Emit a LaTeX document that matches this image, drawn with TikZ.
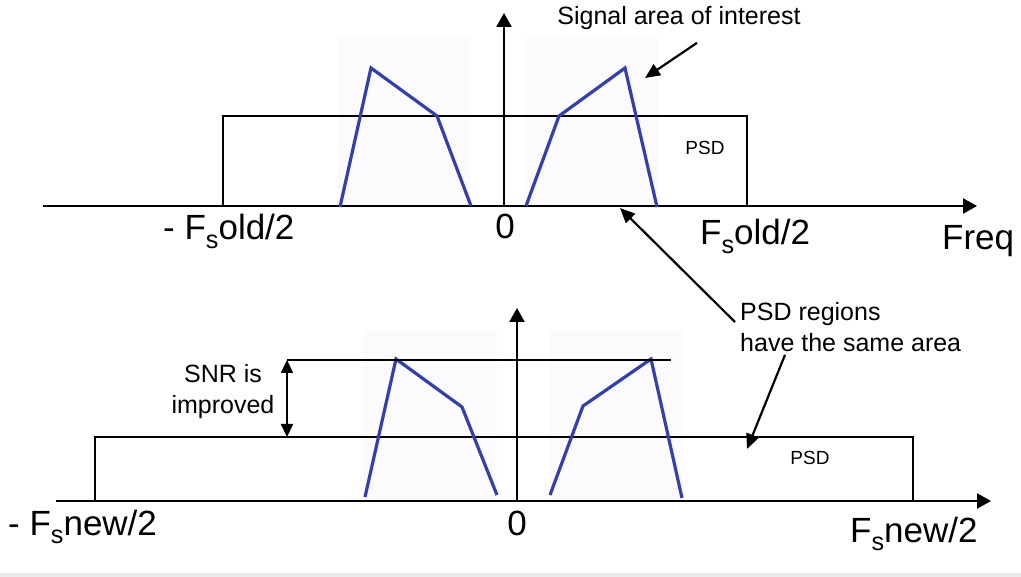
\documentclass[tikz,border=0pt]{standalone}
\usepackage{fontspec}
\setmainfont{Liberation Sans}
\usetikzlibrary{arrows.meta, positioning, calc}
\definecolor{sigblue}{RGB}{50,65,170}
\definecolor{shadegray}{RGB}{251,251,253}
\newcommand{\Fs}{F\raisebox{-0.24em}{\scalebox{0.72}{s}}}
\tikzset{
    axis/.style={
        line width=2.4pt, -{Triangle[length=14pt, width=15pt]}
    },
    psdbox/.style={draw=black, line width=1.2pt},
    signal/.style={draw=sigblue, line width=3.2pt, line join=miter},
    shade/.style={fill=shadegray},
    note/.style={
        align=left, inner sep=0pt,
        font=\fontsize{25}{31}\selectfont
    },
    psdlabel/.style={inner sep=0pt, font=\fontsize{19}{22}\selectfont},
    biglabel/.style={inner sep=0pt, anchor=base west, font=\fontsize{35}{40}\selectfont},
    arrow/.style={line width=2.2pt, -{Triangle[length=15pt, width=13pt]}},
    dblarrow/.style={line width=2.2pt, {Triangle[length=13pt, width=12pt]}-{Triangle[length=13pt, width=12pt]}},
    point/.style={coordinate}
}
\begin{document}
\begin{tikzpicture}[x=1pt, y=-1pt]
    \useasboundingbox (0,0) rectangle (1021,577);
    \fill[gray!15] (0,573) rectangle (1021,577);

    % old sampling rate
    \fill[shade] (338,38) rectangle (471,206);
    \fill[shade] (525,38) rectangle (658,206);
    \draw[psdbox] (223,206) |- (747,116) -- (747,206);
    \coordinate (xl1) at (43,206);
    \coordinate (xr1) at (977,206);
    \coordinate (o1) at (504,206);
    \coordinate (yt1) at (504,13);
    \draw[axis] (xl1) -- (xr1);
    \draw[axis] (o1) -- (yt1);
    \draw[signal] (340,207) -- (371,68) -- (437,116) -- (471,206);
    \draw[signal] (526,206) -- (559,116) -- (625,68) -- (657,207);
    \node[psdlabel] (psd1) at (705,148) {PSD};
    \node[biglabel] (fsl1) at (163,240) {- \Fs old/2};
    \node[biglabel, anchor=base] (zero1) at (505,239) {0};
    \node[biglabel] (fsr1) at (700,245) {\Fs old/2};
    \node[biglabel] (freq) at (942,250) {Freq};

    % new sampling rate
    \fill[shade] (363,330) rectangle (497,501);
    \fill[shade] (550,330) rectangle (683,501);
    \draw[psdbox] (95,501) |- (913,437) -- (913,501);
    \coordinate (xl2) at (56,501);
    \coordinate (xr2) at (991,501);
    \coordinate (o2) at (517,501);
    \coordinate (yt2) at (517,308);
    \draw[axis] (xl2) -- (xr2);
    \draw[axis] (o2) -- (yt2);
    \draw[signal] (365,497) -- (396,359) -- (462,407) -- (497,495);
    \draw[signal] (550,495) -- (583,406) -- (651,359) -- (682,498);
    \node[psdlabel] (psd2) at (810,458) {PSD};
    \node[biglabel] (fsl2) at (8,535) {- \Fs new/2};
    \node[biglabel, anchor=base] (zero2) at (517,535) {0};
    \node[biglabel] (fsr2) at (850,542) {\Fs new/2};

    % annotations
    \node[note, align=center] (sig) at (679,18) {Signal area of interest};
    \coordinate (sigtip) at (645,78);
    \draw[arrow] ([xshift=18pt, yshift=-13pt]sig.south) -- (sigtip);

    \node[note, anchor=west] (same) at (740,327) {PSD regions\\have the same area};
    \coordinate (oldtip) at (620,208);
    \coordinate (newtip) at (747,449);
    \draw[arrow] ([xshift=-5pt, yshift=5pt]same.west) -- (oldtip);
    \draw[arrow] ([xshift=45pt, yshift=-3pt]same.south west) -- (newtip);

    \node[note, align=center] (snr) at (223,392) {SNR is\\improved};
    \coordinate (snrtop) at (287,360);
    \coordinate (snrbot) at (287,437);
    \coordinate (peakline) at (671,360);
    \draw[psdbox] (snrtop) -- (peakline);
    \draw[dblarrow] (snrtop) -- (snrbot);
\end{tikzpicture}
\end{document}
